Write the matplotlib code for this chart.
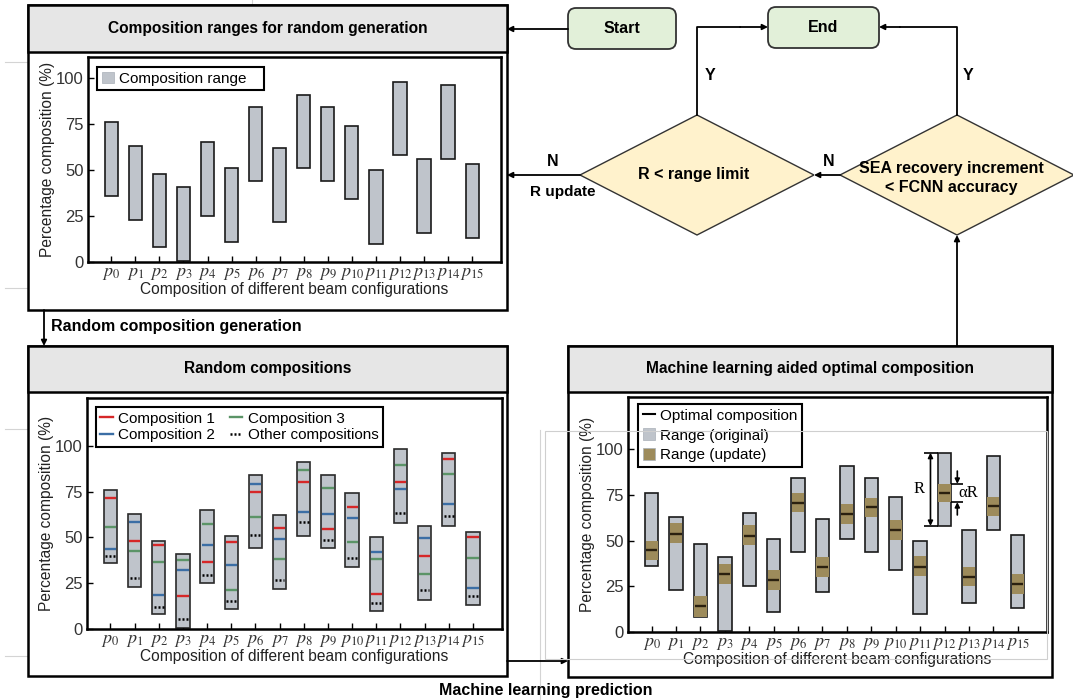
import matplotlib.pyplot as plt
from matplotlib.patches import Rectangle, FancyBboxPatch, Polygon, Patch
from matplotlib.lines import Line2D

plt.rcParams['font.family'] = ['Liberation Sans', 'DejaVu Sans']
plt.rcParams['mathtext.fontset'] = 'stix'

# data
configs = ['$p_{%d}$' % i for i in range(16)]
range_lo = [36, 23, 8, 0.5, 25, 11, 44, 22, 51, 44, 34, 10, 58, 16, 56, 13]
range_hi = [76, 63, 48, 41, 65, 51, 84, 62, 91, 84, 74, 50, 98, 56, 96, 53]

comp1 = [71.5, 48.0, 45.8, 17.8, 36.7, 47.5, 74.5, 54.9, 80.0, 54.7, 66.5, 19.1, 80.2, 39.8, 92.9, 50.0]
comp2 = [43.6, 58.5, 18.5, 32.2, 45.6, 34.7, 79.3, 49.3, 63.6, 62.5, 60.5, 42.2, 76.2, 49.5, 68.4, 22.5]
comp3 = [55.6, 42.4, 36.7, 37.6, 57.1, 21.3, 60.9, 38.4, 86.7, 76.7, 47.3, 38.2, 89.3, 29.8, 84.5, 38.7]
others = [39.6, 27.8, 11.8, 5.6, 29.6, 15.5, 51.1, 26.9, 58.4, 48.5, 38.5, 14.4, 63.3, 21.1, 61.6, 18.2]

optimal = [44.7, 53.8, 14.2, 31.5, 52.7, 28.2, 70.7, 35.3, 64.5, 68.4, 55.8, 35.8, 76.2, 30.2, 68.7, 26.2]
upd_lo = [39.5, 48.5, 8.0, 26.0, 47.5, 23.0, 65.5, 30.0, 59.0, 63.0, 50.5, 30.5, 71.0, 25.0, 63.5, 21.0]
upd_hi = [50.0, 59.5, 19.5, 37.0, 58.5, 34.0, 76.0, 41.0, 70.0, 73.5, 61.5, 41.5, 81.0, 35.5, 74.0, 31.5]

GREY = '#bfc4cb'
BAND = '#9d8b5b'
RED, BLUE, GREEN = '#d62728', '#3b6ea5', '#5b9467'
FS = 11.5
DOTS = (0, (0.8, 0.8))

W, H = 1073, 700
fig = plt.figure(figsize=(10.73, 7), dpi=100)
bg = fig.add_axes([0, 0, 1, 1])
bg.set_xlim(0, W)
bg.set_ylim(H, 0)
bg.axis('off')


def px_axes(l, t, r, b):
    return fig.add_axes([l / W, 1 - b / H, (r - l) / W, (b - t) / H])


def panel(l, t, r, b, tb, title):
    bg.add_patch(Rectangle((l, t), r - l, b - t, fc='white', ec='black', lw=1.8))
    bg.add_patch(Rectangle((l, t), r - l, tb - t, fc='#e6e6e6', ec='black', lw=1.8))
    bg.text((l + r) / 2, (t + tb) / 2, title, ha='center', va='center',
            fontsize=11.2, fontweight='bold')


def arrow(x0, y0, x1, y1):
    bg.annotate('', xy=(x1, y1), xytext=(x0, y0),
                arrowprops=dict(arrowstyle='-|>', lw=1.3, color='black',
                                mutation_scale=8, shrinkA=0, shrinkB=0))


def diamond(cx, cy, hw, hh):
    bg.add_patch(Polygon([(cx - hw, cy), (cx, cy - hh), (cx + hw, cy), (cx, cy + hh)],
                         closed=True, fc='#fff2cc', ec='#333333', lw=1.0))


# panels
panel(28, 5, 507, 310, 52, 'Composition ranges for random generation')
panel(28, 346, 507, 676, 392, 'Random compositions')
panel(568, 346, 1052, 677, 392, 'Machine learning aided optimal composition')

# flow chart
for (x0, x1, y0, y1, s) in [(568, 676, 8, 49, 'Start'), (768, 879, 7, 48, 'End')]:
    bg.add_patch(FancyBboxPatch((x0, y0), x1 - x0, y1 - y0,
                                boxstyle='round,pad=0,rounding_size=8',
                                fc='#e2f0d9', ec='#333333', lw=1.3))
    bg.text((x0 + x1) / 2, (y0 + y1) / 2, s, ha='center', va='center',
            fontsize=FS, fontweight='bold')

diamond(697, 175, 117, 60)
diamond(957, 175, 117, 60)
bg.text(694, 175, 'R < range limit', ha='center', va='center', fontsize=FS, fontweight='bold')
bg.text(951, 178, 'SEA recovery increment\n< FCNN accuracy', ha='center', va='center',
        fontsize=FS, fontweight='bold', linespacing=1.3)

arrow(568, 29, 507, 29)
bg.plot([697, 697, 740], [115, 27, 27], color='black', lw=1.3)
arrow(740, 27, 768, 27)
bg.plot([957, 957, 900], [115, 27, 27], color='black', lw=1.3)
arrow(900, 27, 879, 27)
arrow(840, 175, 814, 175)
arrow(580, 175, 507, 175)
arrow(957, 346, 957, 235)
bg.text(710, 76, 'Y', ha='center', va='center', fontsize=FS, fontweight='bold')
bg.text(968, 76, 'Y', ha='center', va='center', fontsize=FS, fontweight='bold')
bg.text(553, 162, 'N', ha='center', va='center', fontsize=FS, fontweight='bold')
bg.text(829, 162, 'N', ha='center', va='center', fontsize=FS, fontweight='bold')
bg.text(563, 192, 'R update', ha='center', va='center', fontsize=11, fontweight='bold')

arrow(44, 310, 44, 346)
bg.text(51, 327, 'Random composition generation', ha='left', va='center',
        fontsize=FS, fontweight='bold')
arrow(507, 661, 568, 661)
bg.text(546, 690, 'Machine learning prediction', ha='center', va='center',
        fontsize=FS, fontweight='bold')

# faint background lines
for xs, ys in [([5, 62], [62, 62]), ([5, 62], [288, 288]), ([252, 252], [0, 57]),
               ([252, 252], [286, 310]), ([5, 28], [429, 429]), ([5, 100], [656, 656]),
               ([540, 540], [430, 700])]:
    bg.plot(xs, ys, color='#d4d4d4', lw=0.8, zorder=0)


def style(ax, ytop):
    ax.set_xlim(-0.97, 16.2)
    ax.set_ylim(0, ytop)
    ax.set_xticks(range(16))
    ax.set_xticklabels(configs)
    ax.set_yticks([0, 25, 50, 75, 100])
    ax.tick_params(direction='in', length=4, width=1, labelsize=12, labelcolor='#333333', pad=3)
    ax.tick_params(axis='x', labelsize=13, pad=2)
    for s in ax.spines.values():
        s.set_linewidth(1.8)
    ax.set_ylabel('Percentage composition (%)', fontsize=11.2, labelpad=1, color='#222222')
    ax.set_xlabel('Composition of different beam configurations', fontsize=11.2, labelpad=0,
                  color='#222222')


def legend(ax, handles, x, y, **kw):
    leg = ax.legend(handles=handles, loc='upper left', bbox_to_anchor=(x, y), borderaxespad=0,
                    fancybox=False, edgecolor='black', framealpha=1, fontsize=11,
                    borderpad=0.3, handlelength=0.8, handleheight=0.8, handletextpad=0.35,
                    **kw)
    leg.get_frame().set_linewidth(1.5)
    return leg


xs = list(range(16))
heights = [h - l for l, h in zip(range_lo, range_hi)]

# panel 1
ax1 = px_axes(88, 57, 501, 262)
ax1.bar(xs, heights, bottom=range_lo, width=0.55, color=GREY, edgecolor='#1a1a1a', lw=1.2, zorder=2)
style(ax1, 111.4)
legend(ax1, [Patch(fc=GREY, ec='#a9b0b8', lw=0.5, label='Composition range')], 0.022, 0.951,
       labelspacing=0.3)
ax1.legend_.get_texts()[0].set_text('Composition range   ')

# panel 2
ax2 = px_axes(87, 398, 502, 629)
ax2.bar(xs, heights, bottom=range_lo, width=0.55, color=GREY, edgecolor='#2a2a2a', lw=1.2, zorder=2)
x0 = [x - 0.23 for x in xs]
x1 = [x + 0.23 for x in xs]
ax2.hlines(comp1, x0, x1, color=RED, lw=1.7, zorder=3)
ax2.hlines(comp2, x0, x1, color=BLUE, lw=1.7, zorder=3)
ax2.hlines(comp3, x0, x1, color=GREEN, lw=1.7, zorder=3)
ax2.hlines(others, [x - 0.21 for x in xs], [x + 0.2 for x in xs], color='black', lw=1.8,
           linestyles=DOTS, zorder=3)
style(ax2, 126)
legend(ax2, [Line2D([], [], color=RED, lw=1.7, label='Composition 1'),
             Line2D([], [], color=BLUE, lw=1.7, label='Composition 2'),
             Line2D([], [], color=GREEN, lw=1.7, label='Composition 3'),
             Line2D([], [], color='black', lw=1.8, ls=DOTS, label='Other compositions')],
       0.021, 0.96, ncol=2, columnspacing=1.0, labelspacing=0.15)

# panel 3
ax3 = px_axes(628, 397, 1047, 632)
ax3.bar(xs, heights, bottom=range_lo, width=0.55, color=GREY, edgecolor='#1a1a1a', lw=1.2, zorder=2)
ax3.bar(xs, [h - l for l, h in zip(upd_lo, upd_hi)], bottom=upd_lo, width=0.5, color=BAND,
        lw=0, zorder=3)
ax3.hlines(optimal, x0, x1, color='#2a200f', lw=1.7, zorder=4)
style(ax3, 128.5)
legend(ax3, [Line2D([], [], color='black', lw=1.5, label='Optimal composition'),
             Patch(fc=GREY, ec='#a9b0b8', lw=0.5, label='Range (original)'),
             Patch(fc=BAND, ec='#a9b0b8', lw=0.5, label='Range (update)')],
       0.024, 0.969, labelspacing=0.35)

# R and alpha R annotation on p12
i, w2 = 12, 0.275
lo, hi = range_lo[i], range_hi[i]
ax3.hlines([lo, hi], i - w2 - 0.55, i - w2, color='black', lw=1.2, zorder=5)
ax3.annotate('', xy=(i - w2 - 0.3, hi), xytext=(i - w2 - 0.3, lo),
             arrowprops=dict(arrowstyle='<|-|>', lw=1.2, color='black', mutation_scale=7,
                             shrinkA=0, shrinkB=0))
ax3.text(i - w2 - 0.75, (lo + hi) / 2, 'R', ha='center', va='center', fontsize=12,
         family='Liberation Serif')
ulo, uhi = upd_lo[i], upd_hi[i]
ax3.hlines([ulo, uhi], i + w2, i + w2 + 0.5, color='black', lw=1.2, zorder=5)
ax3.annotate('', xy=(i + w2 + 0.25, uhi), xytext=(i + w2 + 0.25, uhi + 7),
             arrowprops=dict(arrowstyle='-|>', lw=1.2, color='black', mutation_scale=7,
                             shrinkA=0, shrinkB=0))
ax3.annotate('', xy=(i + w2 + 0.25, ulo), xytext=(i + w2 + 0.25, ulo - 7),
             arrowprops=dict(arrowstyle='-|>', lw=1.2, color='black', mutation_scale=7,
                             shrinkA=0, shrinkB=0))
ax3.text(i + w2 + 0.3, (ulo + uhi) / 2, '\u03b1R', ha='left', va='center', fontsize=12,
         family='Liberation Serif')

# faint overlay frame in last panel
top = fig.add_axes([0, 0, 1, 1], zorder=10)
top.set_xlim(0, W)
top.set_ylim(H, 0)
top.axis('off')
top.add_patch(Rectangle((545, 431), 502, 228, fill=False, ec='#cfcfcf', lw=0.8))

fig.savefig('out.png', dpi=100)
